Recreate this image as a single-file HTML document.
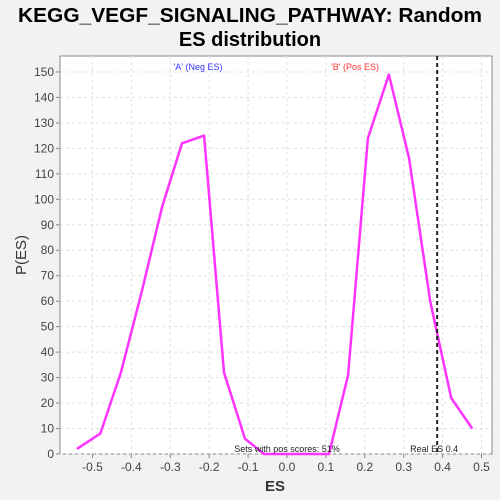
<!DOCTYPE html>
<html><head><meta charset="utf-8"><style>
html,body{margin:0;padding:0;background:#f2f2f2;}
svg{display:block;font-family:"Liberation Sans","DejaVu Sans",sans-serif;}
</style></head><body>
<svg id="chart" width="500" height="500" viewBox="0 0 500 500" xmlns="http://www.w3.org/2000/svg">
<rect x="0" y="0" width="500" height="500" fill="#f2f2f2"/>
<text x="250" y="22" text-anchor="middle" font-size="20" font-weight="bold" fill="#000" textLength="464" lengthAdjust="spacingAndGlyphs">KEGG_VEGF_SIGNALING_PATHWAY: Random</text>
<text x="250" y="46" text-anchor="middle" font-size="20" font-weight="bold" fill="#000">ES distribution</text>
<rect x="60" y="56" width="432" height="398" fill="#fff" stroke="#888" stroke-width="1"/>
<g id="grid"></g>
<g id="axes"></g>
<g id="marks"></g>
<text x="198" y="70" text-anchor="middle" font-size="9" fill="#3333ff">'A' (Neg ES)</text>
<text x="355" y="70" text-anchor="middle" font-size="9" fill="#ff3333">'B' (Pos ES)</text>
<text x="26" y="255" text-anchor="middle" font-size="15" fill="#333" transform="rotate(-90 26 255)">P(ES)</text>
<text x="275" y="491" text-anchor="middle" font-size="15" font-weight="bold" fill="#333">ES</text>
</svg>
<script>
const esValues = [-0.54,-0.48,-0.427,-0.373,-0.321,-0.27,-0.213,-0.162,-0.108,-0.059,0.0,0.054,0.108,0.157,0.208,0.262,0.314,0.368,0.422,0.476];
const counts   = [2,8,32,64,97,122,125,32,6,0,0,0,0,31,124,149,116,60,22,10];
const xTicks = [-0.5,-0.4,-0.3,-0.2,-0.1,0.0,0.1,0.2,0.3,0.4,0.5];
const xTickLabels = ["-0.5","-0.4","-0.3","-0.2","-0.1","0.0","0.1","0.2","0.3","0.4","0.5"];
const yTicks = [0,10,20,30,40,50,60,70,80,90,100,110,120,130,140,150];
const realES = [0.386];
const posPct = ["51%"];

const NS="http://www.w3.org/2000/svg";
const L=60,R=492,T=56,B=454;
function xs(v){return 287+389*v;}
function ys(v){return 454-2.547*v;}
function mk(tag,attrs,parent){const e=document.createElementNS(NS,tag);for(const k in attrs)e.setAttribute(k,attrs[k]);parent.appendChild(e);return e;}
const grid=document.getElementById('grid'),axes=document.getElementById('axes'),marks=document.getElementById('marks');

xTicks.forEach((t,i)=>{
  const x=xs(t);
  const g=mk('line',{x1:x,x2:x,y1:T,y2:B,stroke:'#e0e0e0','stroke-dasharray':'3,3'},grid);
  
  
  const tk=mk('line',{x1:x,x2:x,y1:B,y2:B+4,stroke:'#888'},axes);
  
  
  const tx=mk('text',{x:x,y:B+17,'text-anchor':'middle','font-size':'12',fill:'#444'},axes);
  tx.textContent=xTickLabels[i];
  
  
});
yTicks.forEach(t=>{
  const y=ys(t);
  const g=mk('line',{x1:L,x2:R,y1:y,y2:y,stroke:'#e0e0e0','stroke-dasharray':'3,3'},grid);
  
  
  const tk=mk('line',{x1:L-4,x2:L,y1:y,y2:y,stroke:'#888'},axes);
  
  
  const tx=mk('text',{x:L-6,y:y+4,'text-anchor':'end','font-size':'12',fill:'#444'},axes);
  tx.textContent=String(t);
  
  
});

const pts=esValues.map((v,i)=>xs(v).toFixed(1)+','+ys(counts[i]).toFixed(1)).join(' ');
const line=mk('polyline',{points:pts,fill:'none',stroke:'#ff33ff','stroke-width':'2.5','stroke-linejoin':'round'},marks);



const rx=xs(realES[0]);
const rl=mk('line',{x1:rx,x2:rx,y1:T,y2:B,stroke:'#222','stroke-width':'2','stroke-dasharray':'4,3'},marks);


const rt=mk('text',{x:rx-3,y:B-2,'text-anchor':'middle','font-size':'9',fill:'#222'},marks);
rt.textContent='Real ES '+realES[0].toFixed(1);


const st=mk('text',{x:xs(0),y:B-2,'text-anchor':'middle','font-size':'9',fill:'#222'},marks);
st.textContent='Sets with pos scores: '+posPct[0];


</script>
</body></html>
